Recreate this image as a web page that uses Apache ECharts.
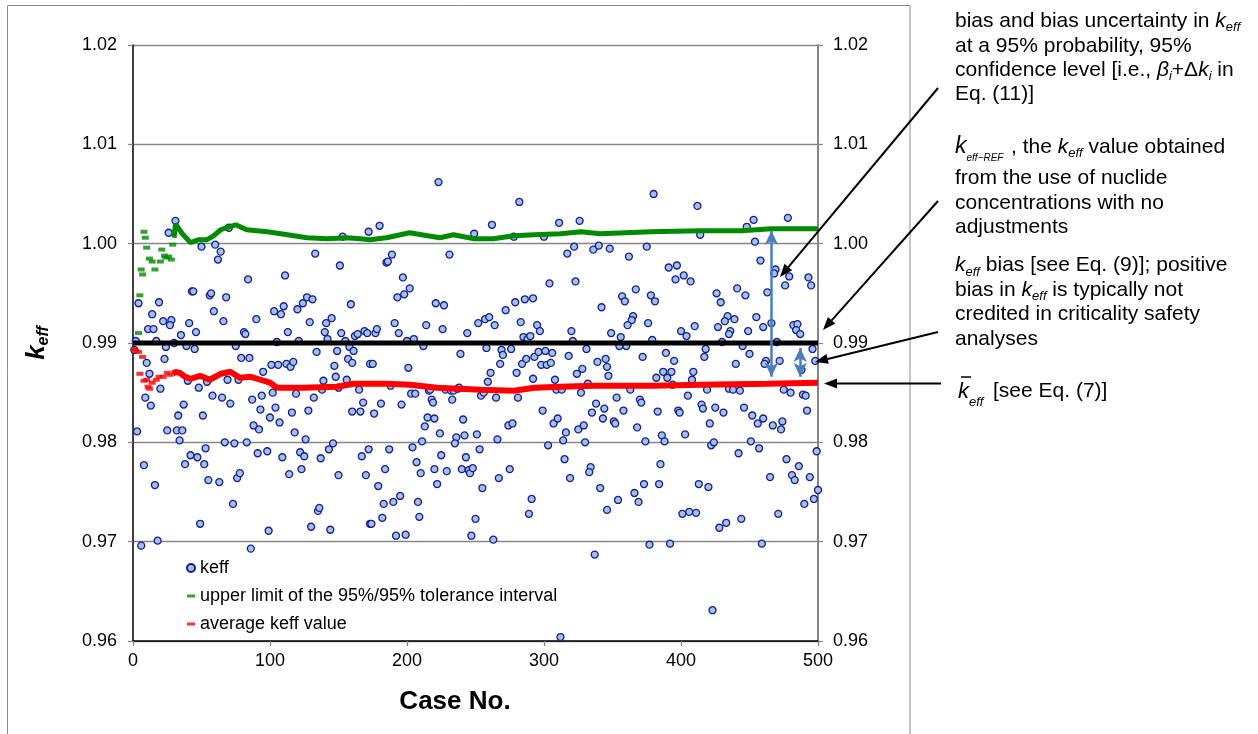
<!DOCTYPE html>
<html><head><meta charset="utf-8">
<script src="https://cdn.jsdelivr.net/npm/echarts@6/dist/echarts.min.js"></script>
<style>html,body{margin:0;padding:0;background:#fff}#c{width:1258px;height:734px}</style>
</head><body><div id="c"></div>
<script>
// ---- data ----
const xTicks = [0, 100, 200, 300, 400, 500];
const yTicks = [0.96, 0.97, 0.98, 0.99, 1.00, 1.01, 1.02];

const caseNo = [31,26,50,60,64,62,70,153,172,133,151,84,111,43,44,56,57,68,4,19,14,59,103,108,110,120,124,127,131,159,
22,28,27,11,15,41,66,90,129,141,145,35,46,81,82,113,140,152,162,164,169,171,142,155,2,17,30,105,121,1,
24,45,39,75,134,149,158,161,10,23,79,85,101,106,112,115,117,147,157,160,173,12,95,148,139,156,69,40,20,48,
165,150,9,58,65,87,94,132,54,77,13,37,33,51,71,102,119,138,168,160,166,93,104,100,107,116,128,3,25,32,
36,34,88,92,118,126,67,74,83,146,53,42,47,38,52,8,91,98,109,122,125,137,143,167,172,123,55,63,76,78,
114,150,170,16,73,135,136,49,99,130,144,173,6,18,86,223,282,180,249,262,311,326,278,300,322,336,340,348,185,186,
189,231,317,197,193,198,202,304,323,221,227,272,279,286,292,342,191,194,214,226,252,257,260,264,283,295,297,244,320,177,
178,285,288,290,200,205,321,349,258,276,269,270,212,239,175,201,268,280,261,284,287,293,296,301,306,298,302,305,318,331,
339,345,346,347,328,324,292,308,259,332,188,203,206,216,217,228,232,234,237,238,254,256,265,281,309,313,327,218,233,176,
181,196,219,299,338,344,343,335,213,215,220,241,224,251,236,235,242,274,277,307,310,325,329,316,314,330,303,266,211,204,
253,187,225,207,243,315,184,210,220,229,240,245,246,248,275,334,333,267,319,222,179,255,341,190,195,183,208,291,346,174,
182,209,250,289,192,199,247,263,337,312,380,412,448,453,478,414,454,375,362,458,391,397,396,402,407,469,468,479,476,493,
495,367,357,359,378,381,426,429,441,447,463,365,364,361,376,434,432,439,455,410,427,460,466,482,485,484,487,356,400,404,
436,435,449,379,430,470,445,496,360,355,418,417,372,389,395,450,440,462,461,472,498,488,387,390,393,382,409,408,363,353,
370,405,419,435,438,443,475,480,489,491,394,371,383,358,351,352,368,374,386,388,398,399,403,415,416,425,431,421,422,424,
446,452,456,460,467,473,474,451,457,442,492,499,477,486,481,483,494,465,500,497,490,471,444,428,433,413,420,385,384,373,
366,369,354,401,406,411,377,392,459,423];

const keffValue = [1.0023,1.0011,0.9997,0.9999,0.9992,0.9984,1.0016,1.0007,1.0012,0.9990,0.9978,0.9964,0.9968,0.9952,0.9952,0.9948,0.9950,0.9946,0.9940,0.9941,0.9929,0.9932,0.9932,0.9929,0.9937,0.9934,0.9940,0.9946,0.9944,0.9939,
0.9922,0.9923,0.9918,0.9914,0.9914,0.9920,0.9922,0.9924,0.9921,0.9920,0.9925,0.9908,0.9911,0.9911,0.9909,0.9911,0.9911,0.9910,0.9907,0.9909,0.9912,0.9910,0.9904,0.9902,0.9902,0.9902,0.9900,0.9901,0.9902,0.9893,
0.9896,0.9894,0.9897,0.9897,0.9891,0.9892,0.9896,0.9892,0.9880,0.9884,0.9885,0.9885,0.9878,0.9878,0.9879,0.9876,0.9881,0.9877,0.9884,0.9880,0.9879,0.9869,0.9871,0.9866,0.9862,0.9863,0.9863,0.9862,0.9854,0.9855,
0.9853,0.9855,0.9845,0.9847,0.9845,0.9843,0.9847,0.9845,0.9861,0.9863,0.9837,0.9838,0.9827,0.9827,0.9839,0.9850,0.9849,0.9853,0.9840,0.9831,0.9831,0.9833,0.9835,0.9825,0.9820,0.9830,0.9832,0.9811,0.9812,0.9812,
0.9812,0.9802,0.9817,0.9813,0.9810,0.9803,0.9800,0.9799,0.9800,0.9799,0.9794,0.9787,0.9785,0.9778,0.9778,0.9777,0.9789,0.9791,0.9785,0.9790,0.9786,0.9784,0.9793,0.9786,0.9793,0.9773,0.9762,0.9760,0.9764,0.9769,
0.9768,0.9767,0.9767,0.9757,0.9738,0.9731,0.9734,0.9718,0.9711,0.9715,0.9712,0.9718,0.9696,0.9701,0.9693,1.0062,1.0042,1.0018,1.0010,1.0019,1.0021,1.0023,1.0007,1.0007,0.9997,0.9994,0.9998,0.9995,0.9981,0.9982,
0.9989,0.9989,0.9990,0.9966,0.9946,0.9949,0.9955,0.9960,0.9962,0.9940,0.9938,0.9933,0.9941,0.9944,0.9945,0.9936,0.9920,0.9910,0.9918,0.9914,0.9920,0.9924,0.9926,0.9918,0.9921,0.9918,0.9912,0.9910,0.9912,0.9910,
0.9914,0.9906,0.9904,0.9907,0.9902,0.9904,0.9902,0.9910,0.9895,0.9894,0.9893,0.9888,0.9897,0.9889,0.9879,0.9875,0.9879,0.9870,0.9870,0.9879,0.9884,0.9886,0.9891,0.9892,0.9890,0.9878,0.9878,0.9880,0.9887,0.9894,
0.9881,0.9884,0.9876,0.9867,0.9874,0.9869,0.9864,0.9863,0.9861,0.9859,0.9857,0.9849,0.9849,0.9852,0.9853,0.9853,0.9852,0.9852,0.9854,0.9855,0.9847,0.9850,0.9845,0.9845,0.9853,0.9853,0.9850,0.9843,0.9843,0.9829,
0.9839,0.9838,0.9840,0.9832,0.9839,0.9834,0.9824,0.9830,0.9816,0.9825,0.9824,0.9823,0.9809,0.9808,0.9805,0.9799,0.9807,0.9817,0.9819,0.9819,0.9824,0.9813,0.9817,0.9810,0.9802,0.9800,0.9797,0.9803,0.9801,0.9795,
0.9793,0.9793,0.9787,0.9780,0.9785,0.9783,0.9773,0.9769,0.9773,0.9771,0.9773,0.9772,0.9769,0.9774,0.9773,0.9775,0.9770,0.9764,0.9764,0.9758,0.9756,0.9754,0.9754,0.9740,0.9746,0.9738,0.9740,0.9743,0.9732,0.9718,
0.9724,0.9725,0.9723,0.9728,0.9706,0.9707,0.9706,0.9702,0.9687,0.9604,1.0050,1.0038,1.0017,1.0024,1.0026,1.0009,1.0002,0.9997,0.9987,0.9983,0.9976,0.9978,0.9964,0.9968,0.9962,0.9974,0.9970,0.9967,0.9958,0.9966,
0.9958,0.9954,0.9947,0.9942,0.9948,0.9942,0.9950,0.9941,0.9955,0.9948,0.9951,0.9927,0.9923,0.9918,0.9920,0.9927,0.9922,0.9924,0.9926,0.9917,0.9916,0.9916,0.9920,0.9918,0.9919,0.9913,0.9909,0.9906,0.9912,0.9907,
0.9912,0.9909,0.9912,0.9903,0.9901,0.9901,0.9897,0.9894,0.9897,0.9897,0.9894,0.9886,0.9886,0.9890,0.9882,0.9889,0.9879,0.9882,0.9879,0.9882,0.9882,0.9873,0.9871,0.9865,0.9871,0.9865,0.9871,0.9863,0.9853,0.9845,
0.9843,0.9847,0.9853,0.9854,0.9853,0.9852,0.9853,0.9850,0.9848,0.9847,0.9858,0.9840,0.9831,0.9832,0.9821,0.9819,0.9815,0.9801,0.9807,0.9801,0.9832,0.9830,0.9808,0.9838,0.9834,0.9835,0.9830,0.9819,0.9797,0.9800,
0.9835,0.9827,0.9819,0.9824,0.9817,0.9813,0.9821,0.9801,0.9794,0.9789,0.9832,0.9791,0.9783,0.9776,0.9767,0.9762,0.9765,0.9765,0.9752,0.9743,0.9738,0.9728,0.9723,0.9714,0.9719,0.9758,0.9755,0.9778,0.9758,0.9758,
0.9749,0.9740,0.9742,0.9728,0.9730,0.9729,0.9697,0.9698,0.9698,0.9631];

// upper limit of the 95%/95% tolerance interval (early separate points, then continuous)
const upperEarlyCase = [4,5,6,7,8,9,10,12,14,16,20,21,23,24,26,28,29];
const upperEarlyValue = [0.9910,0.9948,0.9974,0.9969,1.0012,1.0006,0.9996,0.9985,0.9982,0.9974,0.9982,0.9994,0.9988,0.9986,0.9987,0.9984,0.9999];
const upperCase = [30,31,36,42,48,54,59,64,70,75,83,98,108,127,142,156,166,173,185,202,215,224,234,249,263,278,293,312,327,341,378,414,444,466,488,500];
const upperValue = [1.0006,1.0020,1.0010,1.0001,1.0004,1.0004,1.0008,1.0014,1.0017,1.0019,1.0014,1.0012,1.0010,1.0006,1.0005,1.0006,1.0005,1.0004,1.0006,1.0011,1.0008,1.0006,1.0009,1.0005,1.0005,1.0008,1.0009,1.0010,1.0012,1.0010,1.0012,1.0013,1.0013,1.0015,1.0015,1.0015];

// average keff value
const avgEarlyCase = [1,2,4,5,7,8,10,11,12,14,17,19,22,25,27];
const avgEarlyValue = [0.9894,0.9892,0.9891,0.9869,0.9886,0.9862,0.9863,0.9856,0.9854,0.9860,0.9863,0.9866,0.9866,0.9870,0.9868];
const avgCase = [29,31,34,38,42,49,56,64,71,78,86,93,100,105,124,149,161,173,185,202,222,254,278,293,312,336,349,380,414,463,500];
const avgValue = [0.9869,0.9871,0.9870,0.9866,0.9864,0.9867,0.9863,0.9869,0.9871,0.9865,0.9866,0.9863,0.9860,0.9855,0.9855,0.9856,0.9859,0.9859,0.9859,0.9858,0.9855,0.9853,0.9852,0.9855,0.9856,0.9857,0.9857,0.9857,0.9858,0.9859,0.9860];

// keff-REF reference line
const refCase = [0, 500];
const refValue = [0.99, 0.99];

// blue double arrows: [case, from, to]
const biasArrows = [[466, 1.0013, 0.9866], [487, 0.9895, 0.9866]];

const legendNames = ['keff', 'upper limit of the 95%/95% tolerance interval', 'average keff value'];

// ---- chart ----
const FONT = "'Liberation Sans', Arial, Helvetica, sans-serif";
const zip = (a, b) => a.map((v, i) => [v, b[i]]);
const chart = echarts.init(document.getElementById('c'), null, {renderer: 'canvas'});

const rich = {
  n: {fontSize: 21, fontFamily: FONT, color: '#000', lineHeight: 26},
  k: {fontSize: 21, fontFamily: FONT, fontStyle: 'italic', color: '#000', lineHeight: 26},
  s: {fontSize: 13, fontFamily: FONT, fontStyle: 'italic', color: '#000', lineHeight: 13, verticalAlign: 'bottom'},
  K: {fontSize: 23, fontFamily: FONT, fontStyle: 'italic', color: '#000', lineHeight: 32},
  s2: {fontSize: 10, fontFamily: FONT, fontStyle: 'italic', color: '#000', lineHeight: 10, verticalAlign: 'bottom'},
  K4: {fontSize: 22, fontFamily: FONT, fontStyle: 'italic', color: '#000', lineHeight: 34},
  s4: {fontSize: 13, fontFamily: FONT, fontStyle: 'italic', color: '#000', lineHeight: 13, verticalAlign: 'bottom'}
};
function txt(x, y, text) {
  return {type: 'text', x: x, y: y, z: 100, style: {text: text, rich: rich, textAlign: 'left', textVerticalAlign: 'middle'}};
}
function arrow(x0, y0, x1, y1) {
  const L = 13, W = 5;
  const dx = x1 - x0, dy = y1 - y0, d = Math.hypot(dx, dy), ux = dx / d, uy = dy / d;
  const bx = x1 - ux * L, by = y1 - uy * L;
  return [
    {type: 'line', z: 100, shape: {x1: x0, y1: y0, x2: bx, y2: by}, style: {stroke: '#000', lineWidth: 2}},
    {type: 'polygon', z: 100, shape: {points: [[x1, y1], [bx - uy * W, by + ux * W], [bx + uy * W, by - ux * W]]}, style: {fill: '#000'}}
  ];
}

const TX = 955;
const graphics = [
  {type: 'rect', z: 0, shape: {x: 7.5, y: 5.5, width: 902.5, height: 760}, style: {fill: 'none', stroke: '#8c8c8c', lineWidth: 1}},
  {type: 'text', x: 455, y: 702, z: 100, style: {text: 'Case No.', font: 'bold 26px ' + FONT, fill: '#000', textAlign: 'center', textVerticalAlign: 'middle'}},
  {type: 'text', x: 37, y: 343, rotation: Math.PI / 2, z: 100, style: {
    text: '{a|k}{b|eff}', textAlign: 'center', textVerticalAlign: 'middle',
    rich: {a: {fontSize: 26, fontWeight: 'bold', fontStyle: 'italic', fontFamily: FONT, color: '#000', lineHeight: 30},
           b: {fontSize: 16, fontWeight: 'bold', fontStyle: 'italic', fontFamily: FONT, color: '#000', lineHeight: 16, verticalAlign: 'bottom'}}}},
  txt(TX, 21, '{n|bias and bias uncertainty in }{k|k}{s|eff}'),
  txt(TX, 46, '{n|at a 95% probability, 95%}'),
  txt(TX, 70, '{n|confidence level [i.e., }{k|β}{s|i}{n|+Δ}{k|k}{s|i}{n| in}'),
  txt(TX, 94.5, '{n|Eq. (11)]}'),
  txt(TX, 147, '{K|k}{s2|eff−REF}'),
  txt(1011, 147, '{n|, the }{k|k}{s|eff}{n| value obtained}'),
  txt(TX, 178.5, '{n|from the use of nuclide}'),
  txt(TX, 203, '{n|concentrations with no}'),
  txt(TX, 227, '{n|adjustments}'),
  txt(TX, 265.5, '{k|k}{s|eff}{n| bias [see Eq. (9)]; positive}'),
  txt(TX, 290, '{n|bias in }{k|k}{s|eff}{n| is typically not}'),
  txt(TX, 314.5, '{n|credited in criticality safety}'),
  txt(TX, 339, '{n|analyses}'),
  txt(958, 391.5, '{K4|k}{s4|eff}'),
  {type: 'line', z: 100, shape: {x1: 961, y1: 377, x2: 971, y2: 377}, style: {stroke: '#000', lineWidth: 1.5}},
  txt(993, 391.5, '{n|[see Eq. (7)]}')
].concat(arrow(938, 88, 780, 277), arrow(938, 201, 823, 330), arrow(938, 332, 815, 362), arrow(941, 383.5, 824, 383.5));

const yAxisBase = {
  type: 'value', min: 0.96, max: 1.02, interval: 0.01,
  axisLabel: {fontSize: 18, color: '#000', fontFamily: FONT, formatter: v => v.toFixed(2)}
};

const option = {
  animation: false,
  backgroundColor: '#fff',
  textStyle: {fontFamily: FONT},
  grid: {left: 133, right: 440, top: 45, bottom: 93, containLabel: false},
  xAxis: {
    type: 'value', min: xTicks[0], max: xTicks[xTicks.length - 1], interval: 100,
    axisLine: {onZero: false, lineStyle: {color: '#000', width: 1.5}},
    axisTick: {show: true, inside: false, length: 5, lineStyle: {color: '#868686', width: 1.3}},
    axisLabel: {fontSize: 18, color: '#000', fontFamily: FONT, margin: 11},
    splitLine: {show: false}
  },
  yAxis: [
    Object.assign({}, yAxisBase, {
      position: 'left',
      axisLine: {show: true, onZero: false, lineStyle: {color: '#000', width: 1.5}},
      axisTick: {show: true, inside: false, length: 5, lineStyle: {color: '#868686', width: 1.3}},
      axisLabel: Object.assign({}, yAxisBase.axisLabel, {margin: 16}),
      splitLine: {show: true, showMinLine: true, showMaxLine: true, lineStyle: {color: '#868686', width: 1.3}}
    }),
    Object.assign({}, yAxisBase, {
      position: 'right',
      axisLine: {show: true, onZero: false, lineStyle: {color: '#868686', width: 2}},
      axisTick: {show: true, inside: false, length: 5, lineStyle: {color: '#868686', width: 1.3}},
      axisLabel: Object.assign({}, yAxisBase.axisLabel, {margin: 15}),
      splitLine: {show: false}
    })
  ],
  legend: {
    orient: 'vertical', left: 181, top: 554, itemWidth: 8, itemHeight: 8, itemGap: 10,
    textStyle: {fontSize: 18, color: '#000', fontFamily: FONT},
    selectedMode: false,
    data: [
      {name: legendNames[0], icon: 'circle'},
      {name: legendNames[1], icon: 'path://M0,0L8,0L8,3L0,3Z'},
      {name: legendNames[2], icon: 'path://M0,0L8,0L8,3L0,3Z'}
    ]
  },
  graphic: graphics,
  series: [
    {
      name: legendNames[0], type: 'scatter', z: 2,
      symbol: 'circle', symbolSize: 7,
      itemStyle: {color: '#9dc3e6', borderColor: '#1c1c8c', borderWidth: 1.3, opacity: 1},
      data: zip(caseNo, keffValue)
    },
    {
      name: legendNames[1], type: 'scatter', z: 3,
      symbol: 'rect', symbolSize: [7, 4],
      itemStyle: {color: '#008a00'},
      data: zip(upperEarlyCase, upperEarlyValue)
    },
    {
      name: legendNames[1], type: 'line', z: 3, showSymbol: false, symbol: 'none',
      lineStyle: {color: '#008a00', width: 5},
      itemStyle: {color: '#008a00'},
      data: zip(upperCase, upperValue)
    },
    {
      name: legendNames[2], type: 'scatter', z: 3,
      symbol: 'rect', symbolSize: [7, 4],
      itemStyle: {color: '#ff0000'},
      data: zip(avgEarlyCase, avgEarlyValue)
    },
    {
      name: legendNames[2], type: 'line', z: 3, showSymbol: false, symbol: 'none',
      lineStyle: {color: '#ff0000', width: 6},
      itemStyle: {color: '#ff0000'},
      data: zip(avgCase, avgValue)
    },
    {
      name: 'keff-REF', type: 'line', z: 4, showSymbol: false, symbol: 'none',
      lineStyle: {color: '#000', width: 5},
      data: zip(refCase, refValue),
      markLine: {
        silent: true, symbol: ['arrow', 'arrow'], symbolSize: [10, 14],
        label: {show: false},
        lineStyle: {color: '#4a7ebb', width: 2.5, type: 'solid'},
        data: biasArrows.map(a => [{coord: [a[0], a[1]]}, {coord: [a[0], a[2]]}])
      }
    }
  ]
};
chart.setOption(option);
</script>
</body></html>
